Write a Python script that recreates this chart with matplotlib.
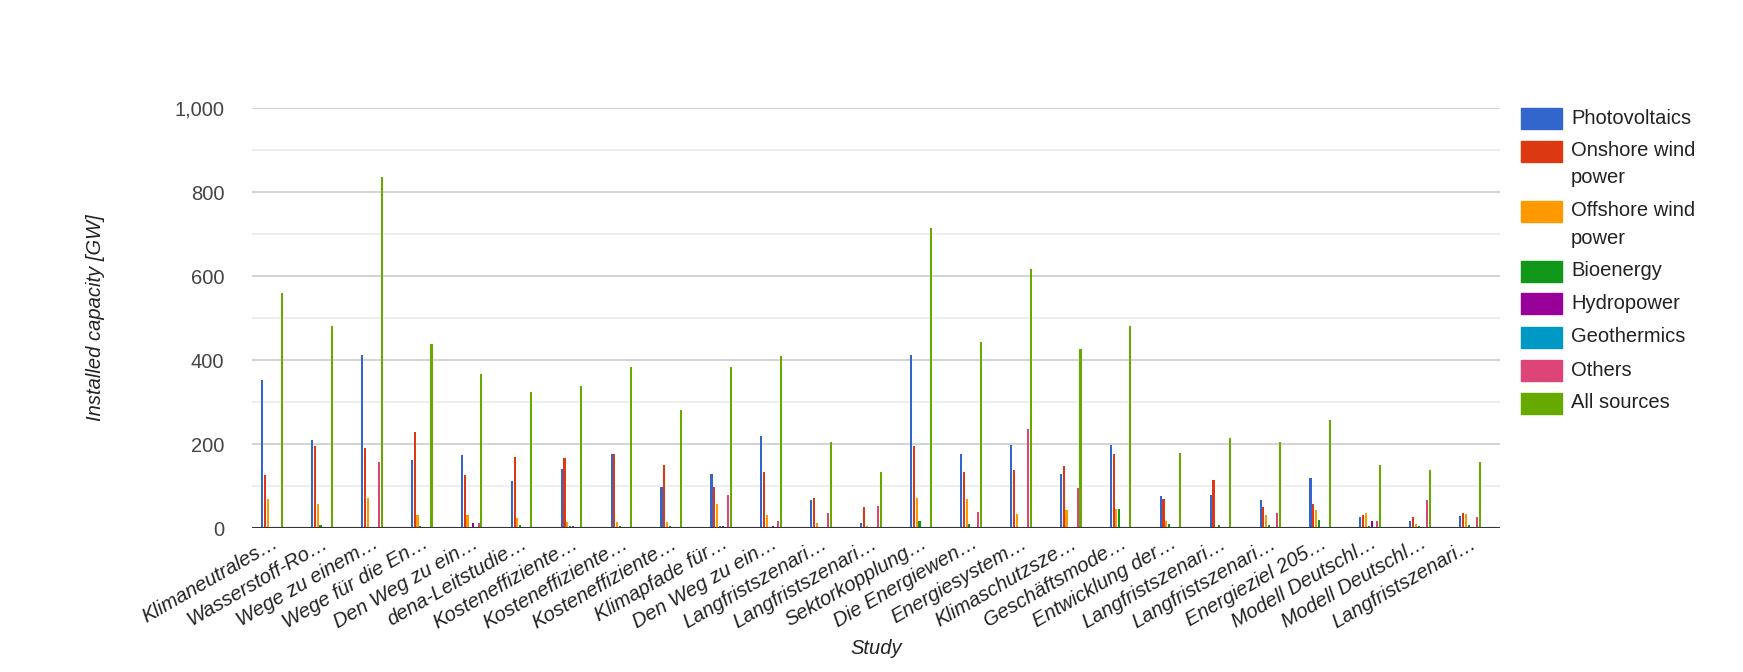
import matplotlib.pyplot as plt
import numpy as np
from matplotlib.patches import Rectangle
from matplotlib.ticker import FuncFormatter, MultipleLocator

plt.rcParams['font.family'] = ['Liberation Sans', 'DejaVu Sans']

studies = ['Klimaneutrales…', 'Wasserstoff-Ro…', 'Wege zu einem…', 'Wege für die En…',
           'Den Weg zu ein…', 'dena-Leitstudie…', 'Kosteneffiziente…', 'Kosteneffiziente…',
           'Kosteneffiziente…', 'Klimapfade für…', 'Den Weg zu ein…', 'Langfristszenari…',
           'Langfristszenari…', 'Sektorkopplung…', 'Die Energiewen…', 'Energiesystem…',
           'Klimaschutzsze…', 'Geschäftsmode…', 'Entwicklung der…', 'Langfristszenari…',
           'Langfristszenari…', 'Energieziel 205…', 'Modell Deutschl…', 'Modell Deutschl…',
           'Langfristszenari…']

photovoltaics = [352, 209, 413, 163, 174, 111, 140, 176, 98, 128, 218, 66, 13, 413, 176,
                 198, 128, 198, 76, 78, 66, 118, 26, 16, 29]
onshore_wind = [127, 196, 190, 229, 127, 170, 167, 176, 150, 98, 133, 72, 50, 196, 133,
                139, 147, 176, 69, 115, 50, 56, 30, 26, 36]
offshore_wind = [69, 56, 71, 30, 30, 23, 14, 14, 14, 56, 30, 13, 4, 71, 69,
                 33, 42, 45, 16, 0, 30, 42, 36, 10, 33]
bioenergy = [0, 6, 0, 4, 0, 7, 4, 5, 5, 4, 0, 3, 0, 16, 10,
             0, 0, 45, 10, 6, 6, 20, 4, 4, 6]
hydropower = [3, 3, 0, 2, 13, 3, 4, 3, 3, 4, 4, 2, 3, 3, 3,
              3, 3, 3, 2, 3, 3, 3, 16, 2, 3]
geothermics = [0, 0, 0, 2, 0, 0, 0, 0, 0, 0, 0, 0, 0, 0, 0,
               0, 0, 0, 0, 3, 0, 3, 3, 0, 3]
others = [0, 0, 157, 0, 13, 2, 0, 0, 3, 78, 16, 35, 53, 0, 39,
          235, 95, 0, 0, 0, 36, 0, 16, 66, 26]
all_sources = [560, 481, 835, 439, 367, 325, 339, 384, 280, 384, 410, 205, 133, 715, 443,
               617, 426, 481, 179, 214, 205, 257, 150, 137, 157]

series = [(['Photovoltaics'], photovoltaics, '#3366cc'),
          (['Onshore wind', 'power'], onshore_wind, '#dc3912'),
          (['Offshore wind', 'power'], offshore_wind, '#ff9900'),
          (['Bioenergy'], bioenergy, '#109618'),
          (['Hydropower'], hydropower, '#990099'),
          (['Geothermics'], geothermics, '#0099c6'),
          (['Others'], others, '#dd4477'),
          (['All sources'], all_sources, '#66aa00')]

W, H = 1743, 672
fig = plt.figure(figsize=(W / 100, H / 100), dpi=100)
ax = fig.add_axes([252 / W, 1 - 528 / H, 1248 / W, 420 / H])

x = np.arange(len(studies))
step = 0.056
for k, (name, vals, col) in enumerate(series):
    ax.bar(x + (k - 3.5) * step, vals, width=0.042, color=col, zorder=3)

ax.set_xlim(-0.4, len(studies) - 0.4)
ax.set_ylim(0, 1000)
ax.yaxis.set_major_locator(MultipleLocator(200))
ax.yaxis.set_minor_locator(MultipleLocator(100))
ax.yaxis.set_major_formatter(FuncFormatter(lambda v, p: f'{int(v):,}'))
ax.grid(axis='y', which='major', color='#cccccc', linewidth=1.2, zorder=0)
ax.grid(axis='y', which='minor', color='#ebebeb', linewidth=1.2, zorder=0)
ax.axhline(0, color='#333333', linewidth=1.5, zorder=4)
for s in ax.spines.values():
    s.set_visible(False)
ax.tick_params(axis='y', which='both', length=0, pad=20, labelsize=14.5, labelcolor='#444444')
ax.tick_params(axis='x', length=0, pad=4)
ax.set_xticks(x)
ax.set_xticklabels(studies, rotation=30, ha='right', rotation_mode='anchor',
                   fontsize=14.5, style='italic', color='#222222')

ax.set_xlabel('Study', fontsize=14.5, style='italic', color='#222222', labelpad=5)
ax.set_ylabel('Installed capacity [GW]', fontsize=14.5, style='italic', color='#222222',
              labelpad=50)

# legend on the right, drawn by hand (pixel positions from the top)
y = 118
for lines, vals, col in series:
    fig.add_artist(Rectangle((1521 / W, 1 - (y + 10.5) / H), 41 / W, 21 / H,
                             transform=fig.transFigure, color=col))
    for j, line in enumerate(lines):
        fig.text(1571 / W, 1 - (y + 27 * j) / H, line, fontsize=14.5, color='#222222',
                 va='center', ha='left')
    y += 33 + 27 * (len(lines) - 1)

fig.savefig('out.png', dpi=100)
